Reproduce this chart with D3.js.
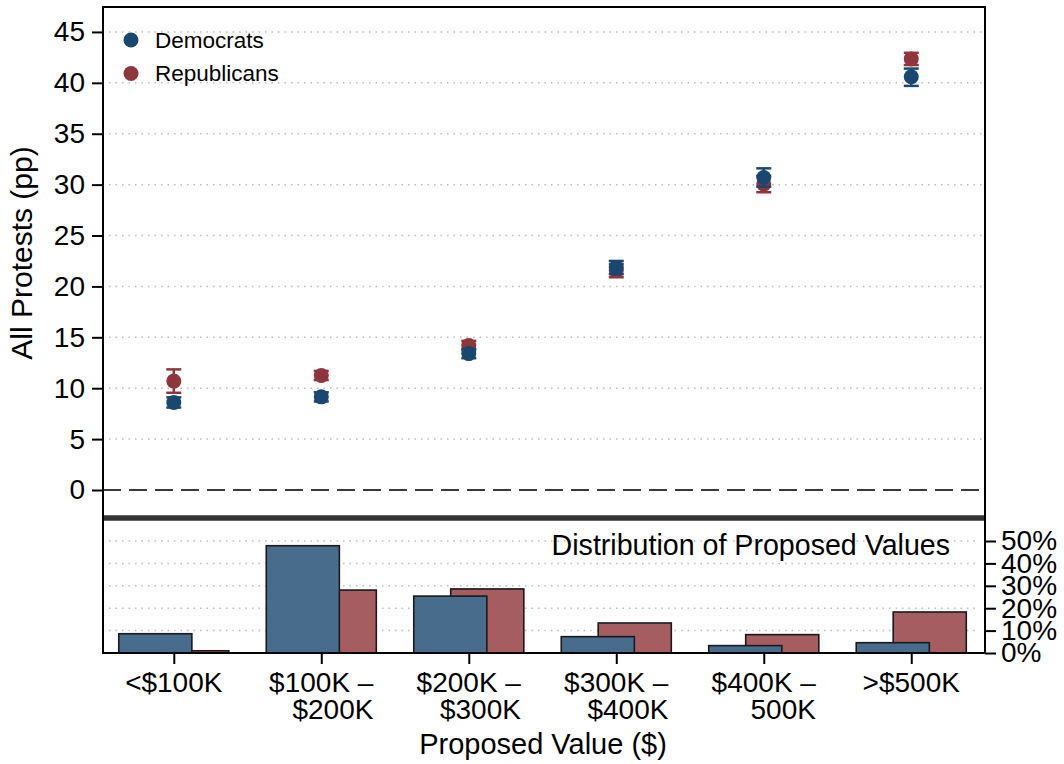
<!DOCTYPE html>
<html><head><meta charset="utf-8">
<script src="https://cdn.jsdelivr.net/npm/d3@7"></script>
<style>
body{margin:0;background:#fff}
text{font-family:"Liberation Sans", Arial, Helvetica, sans-serif; fill:#000}
</style>
</head><body>
<svg id="c" width="1064" height="764"></svg>
<script>
// ---- data ----
const categories = [["<$100K"], ["$100K –", "$200K"], ["$200K –", "$300K"], ["$300K –", "$400K"], ["$400K –", "500K"], [">$500K"]];
const demEst = [8.6, 9.15, 13.4, 21.85, 30.7, 40.6];
const demLo  = [8.1, 8.7, 12.95, 21.2, 29.8, 39.7];
const demHi  = [9.1, 9.6, 13.85, 22.5, 31.6, 41.4];
const repEst = [10.7, 11.25, 14.2, 21.55, 30.05, 42.35];
const repLo  = [9.55, 10.8, 13.75, 20.9, 29.25, 41.75];
const repHi  = [11.85, 11.7, 14.65, 22.2, 30.85, 42.95];
const demShare = [0.086, 0.479, 0.254, 0.073, 0.033, 0.046];
const repShare = [0.010, 0.281, 0.286, 0.134, 0.082, 0.183];
const yTicks = [0, 5, 10, 15, 20, 25, 30, 35, 40, 45];
const shareTicks = [0, 0.1, 0.2, 0.3, 0.4, 0.5];
const seriesNames = ["Democrats", "Republicans"];

// ---- styles ----
const demColor = "#1a476f", repColor = "#90353b";
const demBar = "#486c8c", repBar = "#a65d62";
const FS = 28;

const svg = d3.select("#c");
const L = 103, R = 985, T = 7, SEP = 518, B = 653;

const x = d3.scaleLinear().domain([0.52, 6.5]).range([L, R]);
const yTop = d3.scaleLinear().domain([-2.75, 47.45]).range([SEP, T]);
const yBot = d3.scaleLinear().domain([0, 0.5]).range([B, 541]);
const idx = categories.map((d, i) => i + 1);

// gridlines top
svg.append("g").selectAll("line").data(yTicks.filter(d => d > 0)).join("line")
  .attr("x1", L + 6).attr("x2", R).attr("y1", d => yTop(d)).attr("y2", d => yTop(d))
  .attr("stroke", "#bdbdbd").attr("stroke-width", 1.5).attr("stroke-dasharray", "1.5,5");
// zero line
svg.append("line").attr("x1", L).attr("x2", R).attr("y1", yTop(0)).attr("y2", yTop(0))
  .attr("stroke", "#3a3a3a").attr("stroke-width", 2).attr("stroke-dasharray", "18,8");
// gridlines bottom
svg.append("g").selectAll("line").data(shareTicks.filter(d => d > 0)).join("line")
  .attr("x1", L + 6).attr("x2", R - 6).attr("y1", d => yBot(d)).attr("y2", d => yBot(d))
  .attr("stroke", "#bdbdbd").attr("stroke-width", 1.5).attr("stroke-dasharray", "1.5,5");

// bars: rep behind, dem in front
const bw = 0.4956, off = 0.1225;
svg.append("g").selectAll("rect").data(repShare).join("rect")
  .attr("x", (d, i) => x(idx[i] - off)).attr("width", (d, i) => x(idx[i] - off + bw) - x(idx[i] - off))
  .attr("y", d => yBot(d)).attr("height", d => B - yBot(d))
  .attr("fill", repBar).attr("stroke", "#1a1a1a").attr("stroke-width", 1.6);
svg.append("g").selectAll("rect").data(demShare).join("rect")
  .attr("x", (d, i) => x(idx[i] + off - bw)).attr("width", (d, i) => x(idx[i] + off) - x(idx[i] + off - bw))
  .attr("y", d => yBot(d)).attr("height", d => B - yBot(d))
  .attr("fill", demBar).attr("stroke", "#1a1a1a").attr("stroke-width", 1.6);

// distribution title
svg.append("text").attr("x", 950).attr("y", 555).attr("text-anchor", "end")
  .attr("font-size", 28.6).text("Distribution of Proposed Values");

// point estimates with CIs
function drawSeries(est, lo, hi, color) {
  const g = svg.append("g");
  const cap = 7.5;
  est.forEach((v, i) => {
    const cx = x(idx[i]);
    g.append("line").attr("x1", cx).attr("x2", cx).attr("y1", yTop(lo[i])).attr("y2", yTop(hi[i]))
      .attr("stroke", color).attr("stroke-width", 2.5);
    [lo[i], hi[i]].forEach(e => g.append("line").attr("x1", cx - cap).attr("x2", cx + cap)
      .attr("y1", yTop(e)).attr("y2", yTop(e)).attr("stroke", color).attr("stroke-width", 2.5));
  });
  g.selectAll("circle").data(est).join("circle")
    .attr("cx", (d, i) => x(idx[i])).attr("cy", d => yTop(d)).attr("r", 7.5).attr("fill", color);
}
drawSeries(repEst, repLo, repHi, repColor);
drawSeries(demEst, demLo, demHi, demColor);

// separator
svg.append("line").attr("x1", L).attr("x2", R).attr("y1", SEP).attr("y2", SEP)
  .attr("stroke", "#333").attr("stroke-width", 5.5);

// frame lines
svg.append("line").attr("x1", L).attr("x2", R + 1).attr("y1", T).attr("y2", T).attr("stroke", "#000").attr("stroke-width", 2);
svg.append("line").attr("x1", L).attr("x2", L).attr("y1", T - 1).attr("y2", B + 1).attr("stroke", "#000").attr("stroke-width", 2);
svg.append("line").attr("x1", R).attr("x2", R).attr("y1", T - 1).attr("y2", B + 1).attr("stroke", "#000").attr("stroke-width", 2);
svg.append("line").attr("x1", L).attr("x2", R).attr("y1", B).attr("y2", B).attr("stroke", "#000").attr("stroke-width", 2);

// left axis
const ay = svg.append("g").attr("transform", `translate(${L},0)`)
  .call(d3.axisLeft(yTop).tickValues(yTicks).tickSize(11).tickPadding(7));
ay.select(".domain").remove();
ay.selectAll(".tick line").attr("stroke", "#000").attr("stroke-width", 2);
ay.selectAll("text").attr("font-size", FS).attr("font-family", null);

// right axis
const ar = svg.append("g").attr("transform", `translate(${R},0)`)
  .call(d3.axisRight(yBot).tickValues(shareTicks).tickFormat(d3.format(".0%")).tickSize(11).tickPadding(5));
ar.select(".domain").remove();
ar.selectAll(".tick line").attr("stroke", "#000").attr("stroke-width", 2);
ar.selectAll("text").attr("font-size", FS).attr("font-family", null);

// bottom axis
const ax = svg.append("g").attr("transform", `translate(0,${B})`)
  .call(d3.axisBottom(x).tickValues(idx).tickSize(11).tickFormat(""));
ax.select(".domain").remove();
ax.selectAll(".tick line").attr("stroke", "#000").attr("stroke-width", 2);
categories.forEach((lines, i) => {
  const cx = x(idx[i]);
  const t1 = svg.append("text").attr("x", cx).attr("y", 692).attr("text-anchor", "middle")
    .attr("font-size", FS).text(lines[0]);
  if (lines[1]) {
    const w = t1.node().getComputedTextLength();
    svg.append("text").attr("x", cx + w / 2).attr("y", 719).attr("text-anchor", "end")
      .attr("font-size", FS).text(lines[1]);
  }
});

// axis titles
svg.append("text").attr("x", 543).attr("y", 754).attr("text-anchor", "middle")
  .attr("font-size", 29).text("Proposed Value ($)");
svg.append("text").attr("transform", "translate(32,253) rotate(-90)").attr("text-anchor", "middle")
  .attr("font-size", 30).text("All Protests (pp)");

// legend
const leg = svg.append("g");
[demColor, repColor].forEach((c, i) => {
  leg.append("circle").attr("cx", 131).attr("cy", 40 + i * 33.5).attr("r", 7.5).attr("fill", c);
  leg.append("text").attr("x", 155).attr("y", 47.5 + i * 33.5).attr("font-size", 22.5).text(seriesNames[i]);
});
</script>
</body></html>
